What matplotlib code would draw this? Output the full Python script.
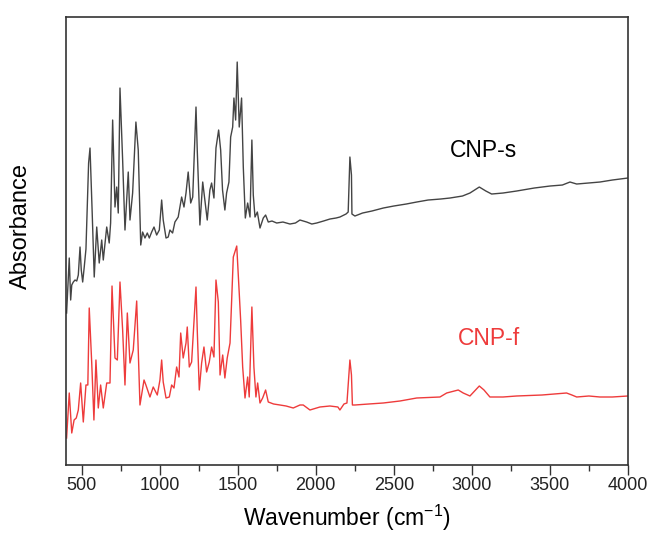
import numpy as np
import matplotlib as mpl
import matplotlib.pyplot as plt
from matplotlib.ticker import MultipleLocator

mpl.rcParams['font.family'] = ['Liberation Sans', 'DejaVu Sans']

# CNP-s (black trace), wavenumber in cm-1, absorbance in arbitrary units
wnS = [404, 421, 430, 437, 447, 458, 469, 479, 490, 498, 507, 517, 528, 545, 554, 568,
       581, 597, 613, 629, 639, 661, 677, 686, 699, 714, 725, 735, 746, 763, 778, 799,
       810, 827, 848, 863, 879, 891, 906, 921, 934, 949, 964, 981, 998, 1013, 1023, 1041,
       1055, 1066, 1083, 1098, 1119, 1130, 1141, 1156, 1169, 1183, 1199, 1212, 1233, 1241,
       1258, 1276, 1290, 1305, 1322, 1333, 1348, 1361, 1378, 1391, 1403, 1418, 1429, 1444,
       1455, 1468, 1476, 1487, 1497, 1510, 1525, 1536, 1549, 1564, 1579, 1591, 1600, 1611,
       1626, 1643, 1664, 1679, 1696, 1720, 1750, 1790, 1835, 1870, 1899, 1942, 1975, 2006,
       2050, 2091, 2130, 2155, 2194, 2208, 2219, 2229, 2232, 2251, 2300, 2360, 2433, 2500,
       2580, 2647, 2720, 2800, 2860, 2940, 2988, 3048, 3090, 3127, 3200, 3287, 3400, 3501,
       3580, 3629, 3672, 3750, 3821, 3900, 4000]
absS = [1.52, 2.07, 1.65, 1.80, 1.83, 1.85, 1.84, 1.90, 2.18, 1.95, 1.83, 1.98, 2.16, 3.02,
        3.17, 2.52, 1.88, 2.38, 2.02, 2.25, 2.05, 2.38, 2.22, 2.42, 3.45, 2.58, 2.78, 2.52,
        3.77, 3.05, 2.35, 2.93, 2.45, 2.72, 3.43, 3.15, 2.20, 2.33, 2.27, 2.32, 2.27, 2.33,
        2.38, 2.30, 2.35, 2.65, 2.45, 2.27, 2.28, 2.35, 2.32, 2.43, 2.48, 2.58, 2.68, 2.58,
        2.72, 2.93, 2.62, 2.68, 3.58, 3.15, 2.40, 2.83, 2.65, 2.45, 2.75, 2.82, 2.67, 3.17,
        3.35, 3.15, 2.75, 2.55, 2.72, 2.83, 3.28, 3.38, 3.67, 3.45, 4.03, 3.38, 3.67, 2.98,
        2.47, 2.62, 2.48, 3.25, 2.70, 2.48, 2.53, 2.37, 2.47, 2.50, 2.43, 2.44, 2.42, 2.43,
        2.41, 2.42, 2.45, 2.43, 2.41, 2.42, 2.44, 2.46, 2.47, 2.48, 2.51, 2.53, 3.08, 2.90,
        2.51, 2.49, 2.52, 2.54, 2.57, 2.59, 2.61, 2.63, 2.65, 2.66, 2.67, 2.69, 2.72, 2.78,
        2.74, 2.71, 2.72, 2.74, 2.77, 2.79, 2.80, 2.83, 2.81, 2.82, 2.83, 2.85, 2.87]

# CNP-f (red trace)
wnF = [404, 421, 437, 452, 466, 479, 494, 511, 528, 540, 549, 565, 579, 592, 607, 622,
       639, 661, 682, 695, 714, 729, 746, 763, 778, 793, 810, 831, 853, 874, 900, 912,
       938, 959, 985, 1002, 1013, 1023, 1041, 1062, 1077, 1092, 1109, 1124, 1135, 1151,
       1169, 1177, 1190, 1205, 1233, 1241, 1254, 1269, 1284, 1301, 1318, 1333, 1348, 1361,
       1376, 1387, 1404, 1418, 1433, 1451, 1472, 1494, 1510, 1519, 1532, 1547, 1564, 1574,
       1591, 1604, 1617, 1628, 1643, 1660, 1679, 1696, 1730, 1771, 1810, 1856, 1899, 1920,
       1963, 2027, 2091, 2142, 2155, 2181, 2200, 2219, 2229, 2235, 2251, 2340, 2433, 2540,
       2647, 2796, 2839, 2913, 2945, 2988, 3048, 3078, 3116, 3200, 3287, 3450, 3607, 3641,
       3672, 3750, 3821, 3900, 4000]
absF = [0.27, 0.72, 0.32, 0.45, 0.47, 0.55, 0.82, 0.43, 0.80, 0.80, 1.57, 1.02, 0.45, 1.05,
        0.57, 0.80, 0.57, 0.82, 0.82, 1.79, 1.07, 1.05, 1.83, 1.35, 0.80, 1.52, 1.02, 1.15,
        1.64, 0.60, 0.85, 0.80, 0.68, 0.78, 0.70, 0.85, 1.05, 0.83, 0.67, 0.68, 0.80, 0.77,
        0.98, 0.88, 1.32, 1.07, 1.22, 1.38, 0.98, 1.03, 1.78, 1.35, 0.75, 1.02, 1.18, 0.93,
        1.03, 1.18, 1.08, 1.85, 1.63, 0.90, 1.10, 0.87, 1.07, 1.22, 2.08, 2.19, 1.72, 1.45,
        0.98, 0.67, 0.88, 0.68, 1.58, 0.98, 0.68, 0.82, 0.62, 0.67, 0.75, 0.63, 0.61, 0.60,
        0.59, 0.57, 0.60, 0.60, 0.55, 0.58, 0.59, 0.58, 0.55, 0.61, 0.62, 1.05, 0.90, 0.60,
        0.60, 0.61, 0.62, 0.64, 0.67, 0.68, 0.72, 0.75, 0.72, 0.69, 0.79, 0.75, 0.68, 0.68,
        0.69, 0.70, 0.72, 0.70, 0.68, 0.69, 0.68, 0.68, 0.69]

xTicks = [500, 1000, 1500, 2000, 2500, 3000, 3500, 4000]

fig = plt.figure(figsize=(6.5, 5.41), dpi=100)
ax = fig.add_axes([0.1015, 0.1405, 0.8645, 0.828])

ax.plot(wnS, absS, '-', color='#444444', linewidth=1.0)
ax.plot(wnF, absF, '-', color='#ee3b3b', linewidth=1.0)

ax.text(3078, 3.15, 'CNP-s', color='black', fontsize=16.5, ha='center', va='center')
ax.text(3110, 1.27, 'CNP-f', color='#ee3b3b', fontsize=16.5, ha='center', va='center')

ax.set_xlim(400, 4000)
ax.set_ylim(0, 4.48)
ax.set_xticks(xTicks)
ax.xaxis.set_minor_locator(MultipleLocator(250))
ax.set_yticks([])
ax.tick_params(axis='x', which='major', direction='out', length=7.5, width=1.0,
               labelsize=13, pad=1.5, colors='#333333')
ax.tick_params(axis='x', which='minor', direction='out', length=4, width=1.0, colors='#333333')
ax.tick_params(axis='x', labelcolor='#222222')

for s in ax.spines.values():
    s.set_linewidth(1.2)
    s.set_color('#333333')

ax.set_xlabel('Wavenumber (cm$^{\\mathregular{-1}}$)', fontsize=16.5, labelpad=6)
fig.text(0.033, 0.582, 'Absorbance', rotation=90, fontsize=17, ha='center', va='center')

plt.savefig('out.png', dpi=100)
plt.close()
